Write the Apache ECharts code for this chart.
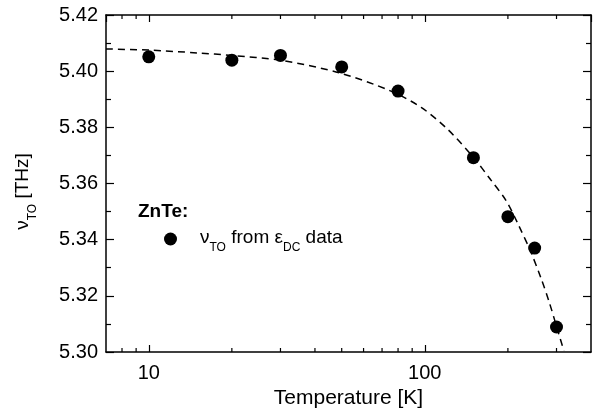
<!DOCTYPE html>
<html>
<head>
<meta charset="utf-8">
<script src="https://cdn.jsdelivr.net/npm/echarts@6/dist/echarts.min.js"></script>
<style>
  html, body { margin: 0; padding: 0; background: #fff; }
  #chart { width: 602px; height: 420px; }
</style>
</head>
<body>
<div id="chart"></div>
<script>
// measured points (ZnTe, nu_TO from eps_DC data)
const temps = [10, 20, 30, 50, 80, 150, 200, 250, 300]
const nuTO = [5.4051, 5.4039, 5.4056, 5.4015, 5.3929, 5.3692, 5.3482, 5.3370, 5.3089]

// dashed fit curve
const fitT = [7, 10, 15, 20, 30, 49, 75, 97, 121, 150, 173, 197, 219, 242, 264, 282, 299, 319]
const fitNu = [5.4079, 5.4075, 5.4065, 5.4056, 5.4039, 5.3994, 5.3930, 5.3871, 5.3793, 5.3693, 5.3614, 5.3539, 5.3450, 5.3357, 5.3261, 5.3179, 5.3096, 5.3004]

// minor ticks on the log axis
const minorTicks = [8, 9, 20, 30, 40, 50, 60, 70, 80, 90, 200, 300]

const xMin = 7, xMax = 400
const yMin = 5.30, yMax = 5.42

const chartDom = document.querySelector('#chart')
const myChart = echarts.init(chartDom)

const font = 'Liberation Sans, Arial, Helvetica, sans-serif'
const black = '#000'

// rich styles for nu_TO / eps_DC subscripts
const richSub = {
    a: { fontFamily: font, fontSize: 19, color: black, lineHeight: 22, verticalAlign: 'top' },
    s: { fontFamily: font, fontSize: 12, color: black, lineHeight: 12, verticalAlign: 'top', padding: [14, 0, 0, 0] },
}

function logX(pos, showLabels) {
    return {
        type: 'log',
        logBase: 10,
        min: xMin,
        max: xMax,
        position: pos,
        name: showLabels ? 'Temperature [K]' : '',
        nameLocation: 'middle',
        nameGap: 34,
        nameTextStyle: { fontFamily: font, fontSize: 21, color: black },
        axisLine: { show: true, lineStyle: { color: black, width: 1.5 } },
        axisTick: { show: true, inside: true, length: 7, lineStyle: { color: black, width: 1.2 } },
        axisLabel: {
            show: showLabels,
            margin: 11,
            fontFamily: font,
            fontSize: 20,
            color: black,
            showMinLabel: false,
            showMaxLabel: false,
            formatter: (v) => {
                if (Math.abs(v - 10) < 0.01) return '10'
                if (Math.abs(v - 100) < 0.1) return '100'
                return ''
            },
        },
        splitLine: { show: false },
    }
}

function valY(pos, showLabels) {
    return {
        type: 'value',
        min: yMin,
        max: yMax,
        interval: 0.02,
        position: pos,
        name: showLabels ? '{a|ν}{s|TO}{a| [THz]}' : '',
        nameLocation: 'middle',
        nameGap: 71,
        nameRotate: 90,
        nameTextStyle: {
            fontFamily: font,
            color: black,
            padding: [0, 16, 0, 0],
            rich: richSub,
        },
        axisLine: { show: true, lineStyle: { color: black, width: 1.5 } },
        axisTick: { show: true, inside: true, length: 8, lineStyle: { color: black, width: 1.2 } },
        minorTick: { show: true, splitNumber: 2, length: 5, lineStyle: { color: black, width: 1.2 } },
        axisLabel: {
            show: showLabels,
            margin: 8,
            fontFamily: font,
            fontSize: 20,
            color: black,
            formatter: (v) => v.toFixed(2),
        },
        splitLine: { show: false },
    }
}

const option = {
    animation: false,
    backgroundColor: '#fff',
    grid: { left: 106, right: 11, top: 15, bottom: 68, containLabel: false },
    xAxis: [logX('bottom', true), logX('top', false)],
    yAxis: [valY('left', true), valY('right', false)],
    legend: {
        data: ['data'],
        left: 159,
        top: 223,
        icon: 'circle',
        itemWidth: 13,
        itemHeight: 13,
        selectedMode: false,
        formatter: () => '{a|ν}{s|TO}{a| from }{a|ε}{s|DC}{a| data}',
        textStyle: {
            padding: [0, 0, 0, 18],
            rich: richSub,
        },
    },
    graphic: [
        {
            type: 'text',
            left: 138,
            top: 202,
            style: { text: 'ZnTe:', fontFamily: font, fontSize: 19, fontWeight: 'bold', fill: black },
        },
    ],
    series: [
        {
            name: 'fit',
            type: 'line',
            data: fitT.map((t, i) => [t, fitNu[i]]),
            smooth: 0.3,
            showSymbol: false,
            symbol: 'none',
            lineStyle: { color: black, width: 1.5, type: [7, 5] },
            z: 2,
        },
        {
            name: 'data',
            type: 'scatter',
            data: temps.map((t, i) => [t, nuTO[i]]),
            symbol: 'circle',
            symbolSize: 13,
            itemStyle: { color: black, opacity: 1 },
            z: 3,
        },
        {
            name: 'minor',
            type: 'custom',
            silent: true,
            data: minorTicks.map((v) => [v, yMin]),
            renderItem: (params, api) => {
                const x = api.coord([api.value(0), yMin])[0]
                const top = params.coordSys.y
                const bottom = params.coordSys.y + params.coordSys.height
                const style = { stroke: black, lineWidth: 1.2 }
                return {
                    type: 'group',
                    children: [
                        { type: 'line', shape: { x1: x, y1: bottom, x2: x, y2: bottom - 4 }, style },
                        { type: 'line', shape: { x1: x, y1: top, x2: x, y2: top + 4 }, style },
                    ],
                }
            },
            z: 1,
        },
    ],
}

myChart.setOption(option)
</script>
</body>
</html>
